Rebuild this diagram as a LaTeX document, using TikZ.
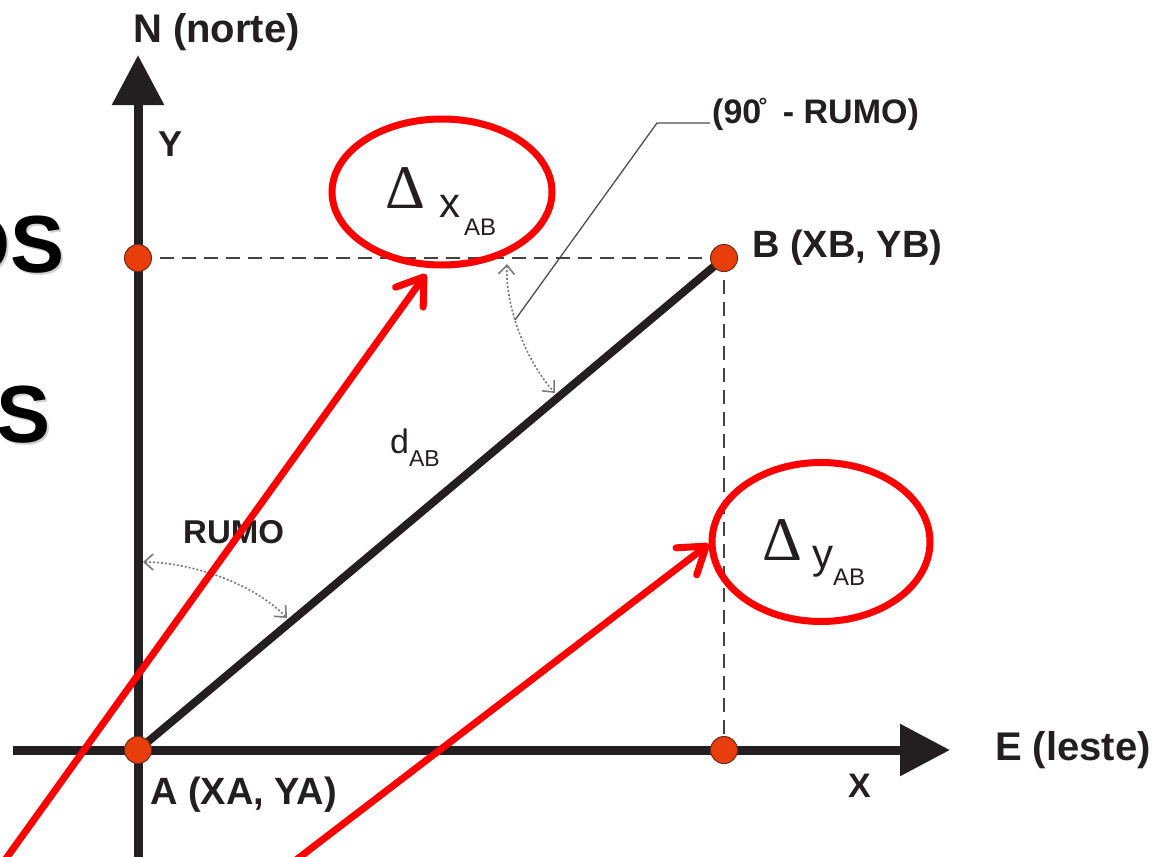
\documentclass[tikz,border=0pt]{standalone}
\usepackage{fontspec}
\setmainfont{Liberation Sans}
\newfontfamily\serifdelta{Liberation Serif}
\usetikzlibrary{arrows.meta,shapes.geometric}
\definecolor{ink}{HTML}{231F20}
\definecolor{ptfill}{HTML}{E83E0C}
\definecolor{rd}{HTML}{FF0000}
\newcommand{\fs}[1]{\fontsize{#1}{#1}\selectfont}
\begin{document}
\begin{tikzpicture}[x=1pt,y=-1pt,
  axis/.style={draw=ink,line width=9pt,-{Triangle[length=50pt,width=50pt]}},
  dot/.style={circle,fill=ptfill,draw=ink!60!ptfill,line width=1pt,minimum size=27pt,inner sep=0pt},
  guide/.style={draw=ink!85,line width=1.5pt,dash pattern=on 14pt off 8pt},
  seg/.style={draw=ink,line width=8pt},
  arcdot/.style={draw=ink!60,line width=1.6pt,dash pattern=on 2pt off 2pt,
    {Straight Barb[length=9pt,width=16pt]}-{Straight Barb[length=9pt,width=16pt]}},
  lead/.style={draw=ink!80,line width=1.3pt},
  ring/.style={ellipse,draw=rd,line width=7pt,inner sep=0pt},
  redarrow/.style={draw=rd,line width=7pt,line cap=round,
    -{Straight Barb[length=25pt,width=34pt,round]}},
  lbl/.style={inner sep=0pt,text=ink,anchor=base west},
  big/.style={inner sep=0pt,anchor=base east,font=\bfseries\fs{81}}
]
\path[use as bounding box] (0,0) rectangle (1157,857);
\clip (0,0) rectangle (1157,857);

% partially visible title text at the left edge
\node[big,text=black!18] (t1s) at (67,274) {OS};
\node[big,text=black] (t1) at (65,272) {OS};
\node[big,text=black!18] (t2s) at (53,444) {AS};
\node[big,text=black] (t2) at (51,442) {AS};

% points
\coordinate (A) at (138,750);
\coordinate (B) at (724,258);
\coordinate (Ay) at (138,258);
\coordinate (Bx) at (724,750);

% dashed projections
\draw[guide] (Ay) -- (B);
\draw[guide] (B) -- (Bx);

% axes
\coordinate (ys) at (138,857);
\coordinate (ye) at (138,55);
\coordinate (xs) at (13,750);
\coordinate (xe) at (950,750);
\draw[axis] (ys) -- (ye);
\draw[axis] (xs) -- (xe);

% segment AB
\draw[seg] (A) -- (B);

% angle arcs
\coordinate (a1s) at (507,264);
\coordinate (a1e) at (555,393);
\draw[arcdot] (a1s) .. controls (505,305) and (525,360) .. (a1e);
\coordinate (a2s) at (143,562);
\coordinate (a2e) at (287,618);
\draw[arcdot] (a2s) .. controls (185,562) and (250,580) .. (a2e);

% leader line
\coordinate (l0) at (515,320);
\coordinate (l1) at (657,123);
\coordinate (l2) at (710,123);
\draw[lead] (l0) -- (l1) -- (l2);

% dots
\node[dot] (pA) at (A) {};
\node[dot] (pB) at (B) {};
\node[dot] (pAy) at (Ay) {};
\node[dot] (pBx) at (Bx) {};

% labels
\node[lbl,font=\bfseries\fs{40}] (N) at (133,42) {N (norte)};
\node[lbl,font=\bfseries\fs{36}] (Y) at (158,156) {Y};
\node[lbl,font=\bfseries\fs{38}] (Bl) at (752,257) {B (XB, YB)};
\node[lbl,font=\bfseries\fs{34}] (r90) at (712,123) {(90\kern-0.08em\raisebox{10pt}{\fs{22}°}\kern-0.1em\ \ - RUMO)};
\node[lbl,font=\bfseries\fs{33}] (rumo) at (183,543) {RUMO};
\node[lbl,font=\fs{34}] (dab) at (390,453) {d\raisebox{-13pt}{\fs{23}AB}};
\node[lbl,font=\bfseries\fs{38}] (Al) at (150,804) {A (XA, YA)};
\node[lbl,font=\bfseries\fs{34}] (X) at (848,797) {X};
\node[lbl,font=\bfseries\fs{40}] (E) at (995,760) {E (leste)};

\node[lbl] (dx) at (385,208) {{\serifdelta\fs{62}Δ}\hspace{14pt}\raisebox{-9pt}{\fs{42}x}\hspace{4pt}\raisebox{-27pt}{\fs{24}AB}};
\node[lbl] (dy) at (762,560) {{\serifdelta\fs{62}Δ}\hspace{10pt}\raisebox{-8pt}{\fs{42}y}\raisebox{-25pt}{\fs{24}AB}};

% red highlights
\node[ring,minimum width=220pt,minimum height=146pt] (ex) at (442,192) {};
\node[ring,minimum width=218pt,minimum height=159pt] (ey) at (821,542) {};
\coordinate (r1s) at (5,860);
\coordinate (r1e) at (426,274);
\coordinate (r2s) at (296,860);
\coordinate (r2e) at (709,544);
\draw[redarrow] (r1s) -- (r1e);
\draw[redarrow] (r2s) -- (r2e);
\end{tikzpicture}
\end{document}
